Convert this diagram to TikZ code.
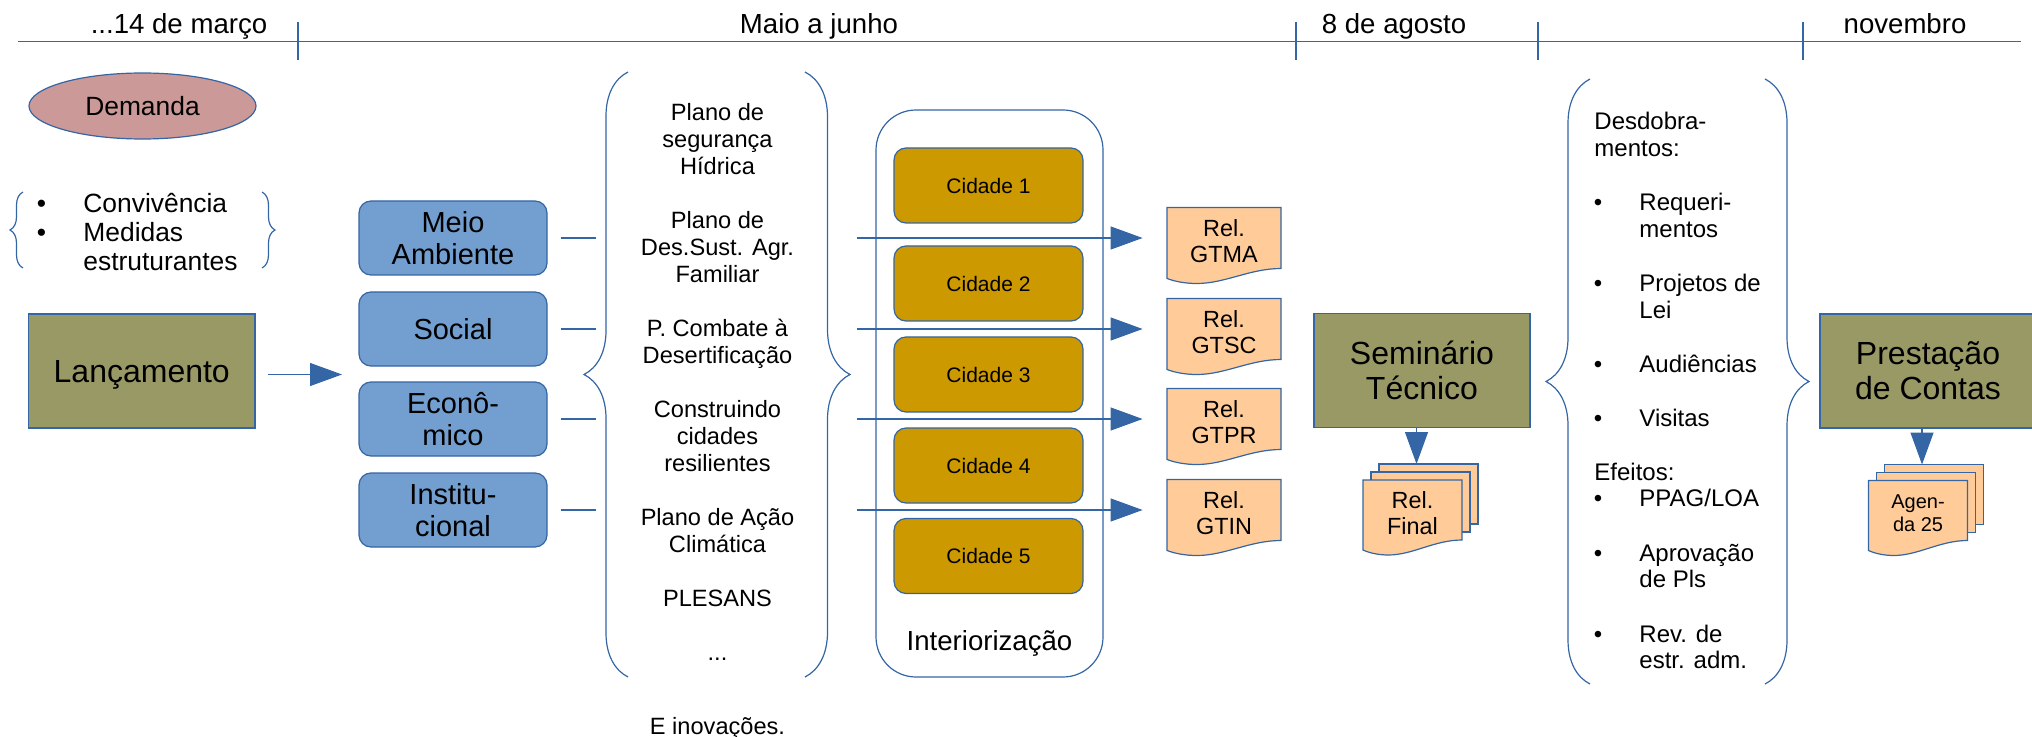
\documentclass[tikz,border=0pt]{standalone}
\usepackage{fontspec}
\setmainfont{Liberation Sans}
\usetikzlibrary{arrows.meta,shapes.geometric,decorations.pathreplacing}

\definecolor{linha}{RGB}{52,101,164}
\definecolor{azul}{RGB}{114,159,207}
\definecolor{oliva}{RGB}{153,153,102}
\definecolor{rosa}{RGB}{204,153,153}
\definecolor{ouro}{RGB}{204,153,0}
\definecolor{pessego}{RGB}{255,204,153}

\tikzset{
  traco/.style={draw=linha,line width=0.6pt},
  seta/.style={traco,-{Triangle[length=16pt,width=11.5pt]}},
  chave/.style={traco,decorate,decoration={brace,amplitude=#1}},
  chave/.default=22pt,
  rotulo/.style={anchor=mid,yshift=-2.5pt,font=\fontsize{13.8}{16}\selectfont},
  eixobox/.style={traco,fill=azul,rounded corners=6pt,minimum width=94pt,minimum height=37pt,align=center,font=\fontsize{14.5}{16}\selectfont},
  marco/.style={traco,fill=oliva,minimum width=108pt,minimum height=57pt,align=center,font=\fontsize{16}{17.5}\selectfont},
  cidade/.style={traco,fill=ouro,rounded corners=6pt,minimum width=94.5pt,minimum height=37.5pt,font=\fontsize{10.5}{12}\selectfont},
  folha/.style={traco,fill=pessego},
  relcaixa/.style={inner sep=0pt,minimum width=57pt,minimum height=30.5pt},
  reltxt/.style={align=center,inner sep=0pt,font=\fontsize{11.7}{13}\selectfont},
  plano/.style={align=center,font=\fontsize{11.8}{13.5}\selectfont},
  topico/.style={anchor=mid west,inner sep=0pt,yshift=-2.5pt,font=\fontsize{12}{13.5}\selectfont},
  lista/.style={anchor=mid west,inner sep=0pt,yshift=-2.5pt,font=\fontsize{13.2}{14.5}\selectfont}
}

\newcommand\relfolha[3]{%
  \draw[folha,shift={#2}] (-57,-30.5) -- (57,-30.5) -- (57,30.5)
    .. controls (26,30.5) and (1,45.5) .. (-27,45.5)
    .. controls (-39,45.5) and (-49,43.5) .. (-57,40.5) -- cycle;
  \node[relcaixa] (#1) at #2 {};
  \node[reltxt] (#1-txt) at ([yshift=-1.5pt]#1.center) {#3};}

\newcommand\pilha[4][]{%
  \begin{scope}[shift={#3}]
    \draw[folha] (-33.5,-46) rectangle (65.5,14);
    \draw[folha] (-41.5,-38) rectangle (57.5,22);
    \draw[folha] (-49.5,-30) -- (49.5,-30) -- (49.5,30)
      .. controls (22,30) and (0,45) .. (-24,45)
      .. controls (-34,45) and (-43,43) .. (-49.5,40) -- cycle;
    \coordinate (#2-topo) at (4,-46);
    \coordinate (#2) at (0,3);
  \end{scope}
  \node[reltxt,#1] (#2-txt) at (#2) {#4};}

\begin{document}
\begin{tikzpicture}[x=0.5pt,y=-0.5pt]
\useasboundingbox (0,0) rectangle (2032,737);
\draw[traco] (18,41.5) -- (2021,41.5);
\foreach \x in {298,1296,1538,1803}
	\draw[traco] (\x,22) -- (\x,60);
\node[rotulo] (marco) at (179,23) {...14 de março};
\node[rotulo] (maio) at (819,23) {Maio a junho};
\node[rotulo] (agosto) at (1394,23) {8 de agosto};
\node[rotulo] (novembro) at (1905,23) {novembro};

\node[traco,fill=rosa,ellipse,minimum width=113.5pt,minimum height=33pt,font=\fontsize{13.2}{15}\selectfont] (demanda) at (142.5,106) {Demanda};
\draw[chave=6.5pt] (23,268) -- (23,192);
\draw[chave=6.5pt] (262,192) -- (262,268);
\foreach \y/\t [count=\i] in {202/Convivência,231/Medidas,260/estruturantes}
	\node[lista] (conv\i) at (83,\y) {\t};
\foreach \y [count=\i] in {202,231}
	\node[lista,anchor=mid] (bola\i) at (41.5,\y) {\textbullet};

\node[marco,minimum width=113.25pt,text depth=0pt] (lanc) at (141.75,371) {Lançamento};
\node[eixobox] (meio) at (453,238) {Meio\\Ambiente};
\node[eixobox] (social) at (453,329) {Social};
\node[eixobox] (econ) at (453,419) {Econô-\\mico};
\node[eixobox] (inst) at (453,510) {Institu-\\cional};
\coordinate (eixos) at (342,374.5);
\draw[seta] ([xshift=6pt]lanc.east |- eixos) -- (eixos);
\coordinate (chave1) at (596,0);
\foreach \n in {meio,social,econ,inst}
	\draw[traco] ([xshift=6.5pt]\n.east) -- (\n.east -| chave1);

\draw[chave] (628,677) -- (628,72);
\draw[chave=22.5pt] (805,72) -- (805,677);
\node[plano] (planos) at (717.5,382) {Plano de\\segurança\\Hídrica\\[13.5pt]Plano de\\Des.Sust. Agr.\\Familiar\\[13.5pt]P. Combate à\\Desertificação\\[13.5pt]Construindo\\cidades\\resilientes\\[13.5pt]Plano de Ação\\Climática\\[13.5pt]PLESANS\\[13.5pt]...};
\node[plano,anchor=mid,yshift=-2.5pt] (inovacoes) at (717.5,724) {E inovações.};

\node[traco,rounded corners=20pt,minimum width=113.5pt,minimum height=283.5pt] (interior) at (989.5,393.5) {};
\node[rotulo] (interiortxt) at (989.5,640) {Interiorização};
\foreach \y [count=\i] in {185.5,283.5,374.5,465.5,556}
	\node[cidade] (cid\i) at (988.5,\y) {Cidade \i};

\relfolha{gtma}{(1224,238)}{Rel.\\GTMA}
\relfolha{gtsc}{(1224,329)}{Rel.\\GTSC}
\relfolha{gtpr}{(1224,419)}{Rel.\\GTPR}
\relfolha{gtin}{(1224,510)}{Rel.\\GTIN}
\coordinate (saida) at (857,0);
\foreach \a/\b in {meio/gtma,social/gtsc,econ/gtpr,inst/gtin}
	\draw[seta] (\a -| saida) -- ([xshift=-12pt]\b.west);

\node[marco] (seminario) at (1422,370.5) {Seminário\\Técnico};
\pilha{final}{(1412.5,510)}{Rel.\\Final}
\draw[seta] (seminario.south -| final-topo) -- (final-topo);

\draw[chave] (1590,684) -- (1590,79);
\draw[chave] (1765,79) -- (1765,684);
\foreach \y/\t [count=\i] in {119/Desdobra-,146/mentos:,470/Efeitos:}
	\node[topico] (cab\i) at (1594,\y) {\t};
\foreach \y/\t [count=\i] in {200/Requeri-,227/mentos,281/Projetos de,308/Lei,362/Audiências,416/Visitas,496/{PPAG/LOA},551/Aprovação,577/de Pls,632/Rev. de,658/estr. adm.}
	\node[topico] (efeito\i) at (1639,\y) {\t};
\foreach \y [count=\i] in {200,281,362,416,496,551,632}
	\node[topico,anchor=mid] (ponto\i) at (1598,\y) {\textbullet};

\node[marco] (prestacao) at (1928,371) {Prestação\\de Contas};
\pilha[font=\fontsize{10}{11.5}\selectfont]{agenda}{(1918,510.5)}{Agen-\\da 25}
\draw[seta] (prestacao.south -| agenda-topo) -- (agenda-topo);
\end{tikzpicture}
\end{document}
